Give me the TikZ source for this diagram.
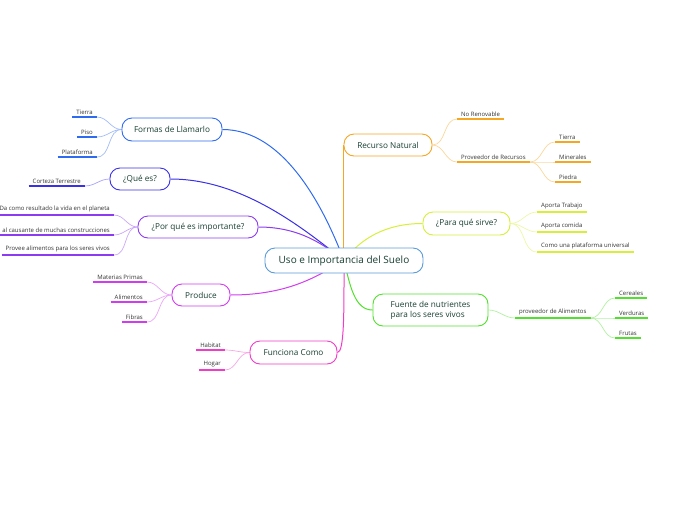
\documentclass[tikz,border=0pt]{standalone}
\usepackage{fontspec}
\setmainfont{Open Sans}
\usetikzlibrary{backgrounds}
\definecolor{cCenter}{HTML}{5A9BD8}
\definecolor{cFormas}{HTML}{2F6BF0}
\definecolor{cQue}{HTML}{3A30E8}
\definecolor{cPorque}{HTML}{8B3CF0}
\definecolor{cProduce}{HTML}{D23CF0}
\definecolor{cFunciona}{HTML}{F03CC8}
\definecolor{cRecurso}{HTML}{F5A623}
\definecolor{cPara}{HTML}{D7EE3A}
\definecolor{cFuente}{HTML}{52E02E}
\definecolor{cText}{HTML}{183F33}
\definecolor{cLeafText}{HTML}{333333}
\tikzset{
  mainnode/.style={draw=#1, fill=white, line width=0.9pt, rounded corners=10pt,
    text=cText, font=\fontsize{8.2}{9.8}\selectfont, inner sep=0pt, align=center},
  leaf/.style={inner xsep=4pt, inner ysep=2.5pt, text=cLeafText,
    font=\fontsize{6}{7}\selectfont},
  mainlink/.style={draw=#1, line width=1pt},
  leaflink/.style={draw=#1!45!white, line width=0.7pt},
  uline/.style={draw=#1, line width=1.6pt}
}
\begin{document}
\begin{tikzpicture}[x=1pt,y=-1pt]
\useasboundingbox (0,0) rectangle (696,520);
\clip (0,0) rectangle (696,520);

% ---------- main nodes ----------
\node[mainnode=cCenter, minimum width=158pt, minimum height=25pt,
      font=\fontsize{10}{11}\selectfont] (C) at (344,260.5) {Uso e Importancia del Suelo};
\node[mainnode=cFormas, minimum width=100pt, minimum height=23pt] (formas) at (172,129.5) {Formas de Llamarlo};
\node[mainnode=cQue, minimum width=60pt, minimum height=22pt] (que) at (140,179) {¿Qué es?};
\node[mainnode=cPorque, minimum width=120pt, minimum height=22pt] (porque) at (198,227) {¿Por qué es importante?};
\node[mainnode=cProduce, minimum width=58pt, minimum height=22pt] (produce) at (201,295) {Produce};
\node[mainnode=cFunciona, minimum width=87pt, minimum height=23pt] (funciona) at (293.5,352.5) {Funciona Como};
\node[mainnode=cRecurso, minimum width=88pt, minimum height=22pt] (recurso) at (388,145) {Recurso Natural};
\node[mainnode=cPara, minimum width=87pt, minimum height=23pt] (para) at (466.5,223.5) {¿Para qué sirve?};
\node[mainnode=cFuente, minimum width=115pt, minimum height=32pt, align=left] (fuente) at (430.5,310)
  {Fuente de nutrientes\\para los seres vivos};

% ---------- leaves, left side ----------
\node[leaf, anchor=south east] (l1) at (97,117) {Tierra};
\node[leaf, anchor=south east] (l2) at (97,137) {Piso};
\node[leaf, anchor=south east] (l3) at (97,157) {Plataforma};
\node[leaf, anchor=south east] (q1) at (85,186) {Corteza Terrestre};
\node[leaf, anchor=south east] (p1) at (114,215) {Da como resultado la vida en el planeta};
\node[leaf, anchor=south east] (p2) at (114,235) {al causante de muchas construcciones};
\node[leaf, anchor=south east] (p3) at (114,255) {Provee alimentos para los seres vivos};
\node[leaf, anchor=south east] (r1) at (147,282) {Materias Primas};
\node[leaf, anchor=south east] (r2) at (147,302) {Alimentos};
\node[leaf, anchor=south east] (r3) at (147,322) {Fibras};
\node[leaf, anchor=south east] (f1) at (225,350) {Habitat};
\node[leaf, anchor=south east] (f2) at (225,370) {Hogar};

% ---------- leaves, right side ----------
\node[leaf, anchor=south west] (n1) at (457,119) {No Renovable};
\node[leaf, anchor=south west] (n2) at (457,162) {Proveedor de Recursos};
\node[leaf, anchor=south west] (n21) at (555,142) {Tierra};
\node[leaf, anchor=south west] (n22) at (555,162) {Minerales};
\node[leaf, anchor=south west] (n23) at (555,182) {Piedra};
\node[leaf, anchor=south west] (s1) at (537,212) {Aporta Trabajo};
\node[leaf, anchor=south west] (s2) at (537,232) {Aporta comida};
\node[leaf, anchor=south west] (s3) at (537,252) {Como una plataforma universal};
\node[leaf, anchor=south west] (u1) at (515,318) {proveedor de Alimentos};
\node[leaf, anchor=south west] (u11) at (615,298) {Cereales};
\node[leaf, anchor=south west] (u12) at (615,318) {Verduras};
\node[leaf, anchor=south west] (u13) at (615,338) {Frutas};

\begin{scope}[on background layer]
% main connectors
\draw[mainlink=cFormas] (formas.east) .. controls +(63,0) and +(-19,-50) .. (C.center);
\draw[mainlink=cQue] (que.east) .. controls +(70,0) and +(-44,-35) .. (C.center);
\draw[mainlink=cPorque] (porque.east) .. controls +(42,0) and +(-19,-15) .. (C.center);
\draw[mainlink=cProduce] (produce.east) .. controls +(60,0) and +(-24,14) .. (C.center);
\draw[mainlink=cFunciona] (funciona.east) .. controls +(7,0) and +(0,50) .. (C.center);
\draw[mainlink=cRecurso] (recurso.west) -- (recurso.west |- C.center);
\draw[mainlink=cPara] (para.west) .. controls +(-38,0) and +(16,-21) .. (C.center);
\draw[mainlink=cFuente] (fuente.west) .. controls +(-18,0) and +(6,25) .. (C.center);

% leaf connectors, left
\foreach \p/\l/\c in {formas/l1/cFormas, formas/l2/cFormas, formas/l3/cFormas,
  que/q1/cQue, porque/p1/cPorque, porque/p2/cPorque, porque/p3/cPorque,
  produce/r1/cProduce, produce/r2/cProduce, produce/r3/cProduce,
  funciona/f1/cFunciona, funciona/f2/cFunciona}
  \draw[leaflink=\c] (\p.west) to[out=180, in=0] (\l.south east);
% leaf connectors, right
\foreach \p/\l/\c in {recurso/n1/cRecurso, recurso/n2/cRecurso,
  para/s1/cPara, para/s2/cPara, para/s3/cPara, fuente/u1/cFuente}
  \draw[leaflink=\c] (\p.east) to[out=0, in=180] (\l.south west);
\foreach \p/\l/\c in {n2/n21/cRecurso, n2/n22/cRecurso, n2/n23/cRecurso,
  u1/u11/cFuente, u1/u12/cFuente, u1/u13/cFuente}
  \draw[leaflink=\c] (\p.south east) to[out=0, in=180] (\l.south west);
\end{scope}

% underlines
\foreach \l/\c in {l1/cFormas, l2/cFormas, l3/cFormas, q1/cQue,
  p1/cPorque, p2/cPorque, p3/cPorque, r1/cProduce, r2/cProduce, r3/cProduce,
  f1/cFunciona, f2/cFunciona, n1/cRecurso, n2/cRecurso, n21/cRecurso,
  n22/cRecurso, n23/cRecurso, s1/cPara, s2/cPara, s3/cPara,
  u1/cFuente, u11/cFuente, u12/cFuente, u13/cFuente}
  \draw[uline=\c] (\l.south west) -- (\l.south east);
\end{tikzpicture}
\end{document}
